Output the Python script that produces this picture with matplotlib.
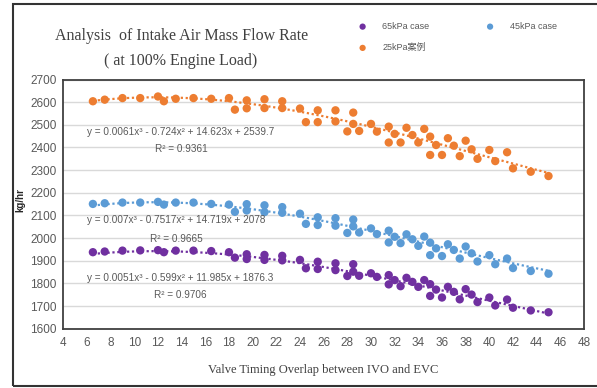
import numpy as np
import matplotlib.pyplot as plt
from matplotlib.patches import Rectangle

# valve timing overlap (shared by the three cases)
overlap = [6.5, 7.5, 9, 10.5, 12, 12.5, 13.5, 15, 16.5, 18, 18.5, 19.5, 19.5,
           21, 21, 22.5, 22.5, 24, 24.5, 25.5, 25.5, 27, 27, 28, 28.5, 28.5,
           29, 30, 30.5, 31.5, 31.5, 32, 32.5, 33, 33.5, 34, 34.5, 35, 35,
           35.5, 36, 36.5, 37, 37.5, 38, 38.5, 39, 40, 40.5, 41.5, 42, 43.5, 45]

flow_65 = [1938, 1941, 1945, 1946, 1947, 1938, 1945, 1945, 1943, 1938, 1914,
           1929, 1908, 1926, 1904, 1922, 1902, 1904, 1867, 1896, 1864, 1889,
           1859, 1833, 1885, 1852, 1834, 1845, 1829, 1837, 1796, 1815, 1788,
           1825, 1807, 1785, 1815, 1797, 1745, 1773, 1738, 1785, 1763, 1730,
           1775, 1751, 1718, 1738, 1703, 1729, 1693, 1681, 1673]

flow_45 = [2151, 2154, 2157, 2157, 2160, 2148, 2157, 2157, 2151, 2148, 2116,
           2150, 2122, 2145, 2115, 2137, 2112, 2108, 2063, 2092, 2058, 2088,
           2055, 2023, 2082, 2052, 2025, 2043, 2018, 2033, 1981, 2006, 1978,
           2017, 1995, 1966, 2007, 1980, 1925, 1955, 1921, 1973, 1948, 1910,
           1963, 1933, 1897, 1925, 1885, 1910, 1868, 1855, 1843]

flow_25 = [2604, 2611, 2618, 2618, 2625, 2604, 2615, 2618, 2615, 2618, 2567,
           2608, 2573, 2613, 2574, 2604, 2574, 2572, 2512, 2564, 2512, 2564,
           2515, 2471, 2554, 2504, 2473, 2504, 2470, 2492, 2422, 2460, 2422,
           2487, 2455, 2422, 2482, 2448, 2367, 2411, 2367, 2441, 2408, 2362,
           2430, 2392, 2350, 2389, 2340, 2379, 2308, 2293, 2274]

# cubic trendline coefficients as printed on the chart
fit_65 = [0.0051, -0.599, 11.985, 1876.3]
fit_45 = [0.007, -0.7517, 14.719, 2078]
fit_25 = [0.0061, -0.724, 14.623, 2539.7]
r2_65, r2_45, r2_25 = 0.9706, 0.9665, 0.9361

labels = ['65kPa case', '45kPa case', '25kPa案例']
colors = ['#7030A0', '#5B9BD5', '#ED7D31']

narrow = ['Liberation Sans Narrow', 'Liberation Sans', 'Noto Sans CJK SC']
serif = ['Liberation Serif']
grey = '#595959'

W, H = 597, 388
fig = plt.figure(figsize=(W / 100, H / 100), dpi=100)
ax = fig.add_axes([63.3 / W, 1 - 328.8 / H, (584 - 63.3) / W, (328.8 - 79.5) / H])

x = np.array(overlap)
xs = np.linspace(x.min(), x.max(), 200)

handles = {}
for ys, fit, lab, col in [(flow_65, fit_65, labels[0], colors[0]),
                          (flow_45, fit_45, labels[1], colors[1]),
                          (flow_25, fit_25, labels[2], colors[2])]:
    ax.plot(xs, np.polyval(fit, xs), ls=(0, (1, 1.2)), lw=1.6, color=col, zorder=2)
    handles[lab] = ax.scatter(x, ys, s=36, color=col, edgecolors='none', zorder=3,
                              label=lab)

ax.set_xlim(4, 48)
ax.set_ylim(1600, 2700)
ax.set_xticks(np.arange(4, 49, 2))
ax.set_yticks(np.arange(1600, 2701, 100))
ax.tick_params(length=0, labelsize=8.5, labelcolor=grey, pad=6)
ax.tick_params(axis='y', pad=5)
for t in ax.get_xticklabels() + ax.get_yticklabels():
    t.set_family(narrow)
ax.grid(axis='y', color='#d9d9d9', lw=1)
ax.set_axisbelow(True)
for sp in ax.spines.values():
    sp.set_color('#404040')
    sp.set_linewidth(1.3)

# trendline equations
eqs = [('y = 0.0061x³ - 0.724x² + 14.623x + 2539.7', 'R² = %.4f' % r2_25, 181, 131.7, 149.3),
       ('y = 0.007x³ - 0.7517x² + 14.719x + 2078', 'R² = %.4f' % r2_45, 176, 220, 239),
       ('y = 0.0051x³ - 0.599x² + 11.985x + 1876.3', 'R² = %.4f' % r2_65, 180, 278.3, 295)]
for eq, r2, cx, y1, y2 in eqs:
    fig.text(cx / W, 1 - y1 / H, eq, ha='center', va='center', fontsize=7.2,
             color=grey, family=narrow)
    fig.text(cx / W, 1 - y2 / H, r2, ha='center', va='center', fontsize=7.2,
             color=grey, family=narrow)

fig.text(182 / W, 1 - 36 / H, 'Analysis  of Intake Air Mass Flow Rate', ha='center',
         va='center', fontsize=11.5, family=serif, color='#404040')
fig.text(181 / W, 1 - 61 / H, '( at 100% Engine Load)', ha='center',
         va='center', fontsize=11.5, family=serif, color='#404040')

fig.text(323 / W, 1 - 370 / H, 'Valve Timing Overlap between IVO and EVC', ha='center',
         va='center', fontsize=9, family=serif, color='#404040')
fig.text(20 / W, 1 - 200 / H, 'kg/hr', ha='center', va='center', rotation=90,
         fontsize=7, fontweight='bold', family=narrow, color='#262626')

leg = fig.legend([handles[labels[0]], handles[labels[2]], handles[labels[1]]],
                 [labels[0], labels[2], labels[1]], ncol=2, frameon=False,
                 loc='upper left', bbox_to_anchor=(359 / W, 1 - 22 / H),
                 borderpad=0, borderaxespad=0, handlelength=0.8, handletextpad=1.8,
                 columnspacing=6.3, labelspacing=1.35, prop={'family': narrow, 'size': 6.5},
                 scatterpoints=1, markerscale=0.75)
for t in leg.get_texts():
    t.set_color(grey)

# outer frame of the picture
fig.add_artist(Rectangle((13 / W, 1 - 386 / H), 1.2, (386 - 4) / H, transform=fig.transFigure,
                         fill=False, edgecolor='#333333', lw=1.5))

fig.savefig('out.png', dpi=100)
